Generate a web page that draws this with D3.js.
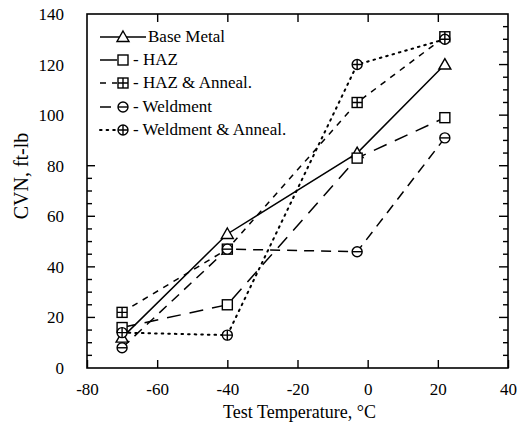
<!DOCTYPE html>
<html>
<head>
<meta charset="utf-8">
<script src="https://cdn.jsdelivr.net/npm/d3@7"></script>
<style>
  body { margin: 0; background: #fff; }
  text { font-family: "Liberation Serif", "DejaVu Serif", serif; fill: #000; }
</style>
</head>
<body>
<div id="chart"></div>
<script>
// test temperatures (C) and CVN values (ft-lb)
var temps = [-70, -40, -3, 22];
var baseMetal = [12, 53, 85, 120];
var haz = [16, 25, 83, 99];
var hazAnneal = [22, 47, 105, 131];
var weldment = [8, 47, 46, 91];
var weldmentAnneal = [14, 13, 120, 130];

var seriesNames = ["Base Metal", "HAZ", "HAZ & Anneal.", "Weldment", "Weldment & Anneal."];
var legendLabels = ["Base Metal", "- HAZ", "- HAZ & Anneal.", "- Weldment", "- Weldment & Anneal."];
var xTicks = [-80, -60, -40, -20, 0, 20, 40];
var yTicks = [0, 20, 40, 60, 80, 100, 120, 140];

var margin = {top: 14, right: 18, bottom: 61, left: 87},
    width = 526 - margin.left - margin.right,
    height = 429 - margin.top - margin.bottom;

var x = d3.scaleLinear().domain([-80, 40]).range([0, width]);
var y = d3.scaleLinear().domain([0, 140]).range([height, 0]);

var svg = d3.select("#chart").append("svg")
    .attr("width", 526)
    .attr("height", 429);

var plot = svg.append("g")
    .attr("transform", "translate(" + margin.left + "," + margin.top + ")");

var series = [
  {name: seriesNames[0], values: baseMetal, dash: null, marker: "triangle"},
  {name: seriesNames[1], values: haz, dash: "14,9", marker: "square"},
  {name: seriesNames[2], values: hazAnneal, dash: "6,6", marker: "squareplus"},
  {name: seriesNames[3], values: weldment, dash: "10,7", marker: "circleminus"},
  {name: seriesNames[4], values: weldmentAnneal, dash: "1.6,5", marker: "circleplus"}
];

// plain hyphen for negatives, like the original
var plainFormat = function(d) { return String(d); };

// minor ticks every 5 on left / right
var minorY = d3.range(0, 141, 5);

// bottom axis (labels + inward ticks)
var xAxis = plot.append("g")
    .attr("transform", "translate(0," + height + ")")
    .call(d3.axisBottom(x).tickValues(xTicks).tickSize(-8).tickPadding(15).tickFormat(plainFormat));
xAxis.select(".domain").remove();
xAxis.selectAll("text").style("font-size", "17px").style("font-family", "Liberation Serif");
xAxis.selectAll("line").attr("stroke-width", 1.4);

// top ticks
var xTop = plot.append("g")
    .call(d3.axisTop(x).tickValues(xTicks.slice(1, -1)).tickSize(-8).tickFormat(""));
xTop.select(".domain").remove();
xTop.selectAll("line").attr("stroke-width", 1.4);

// left axis: labels, ticks only below legend
var yAxis = plot.append("g")
    .call(d3.axisLeft(y).tickValues(yTicks).tickSize(0).tickPadding(23).tickFormat(plainFormat));
yAxis.select(".domain").remove();
yAxis.selectAll("text").style("font-size", "17px").style("font-family", "Liberation Serif");

plot.append("g").selectAll("line")
    .data(minorY.filter(function(d) { return d > 0 && d <= 80; }))
    .enter().append("line")
    .attr("x1", 0)
    .attr("x2", function(d) { return d % 20 === 0 ? 8 : 5; })
    .attr("y1", function(d) { return y(d); })
    .attr("y2", function(d) { return y(d); })
    .attr("stroke", "#000").attr("stroke-width", 1.4);

// right ticks
plot.append("g").selectAll("line")
    .data(minorY.filter(function(d) { return d > 0 && d < 140; }))
    .enter().append("line")
    .attr("x1", width)
    .attr("x2", function(d) { return width - (d % 20 === 0 ? 9 : 5); })
    .attr("y1", function(d) { return y(d); })
    .attr("y2", function(d) { return y(d); })
    .attr("stroke", "#000").attr("stroke-width", 1.4);

// frame
plot.append("rect")
    .attr("width", width).attr("height", height)
    .attr("fill", "none").attr("stroke", "#000").attr("stroke-width", 1.6);

// axis titles
svg.append("text")
    .attr("x", margin.left + x(-20) + 2)
    .attr("y", 418)
    .attr("text-anchor", "middle")
    .style("font-size", "18px")
    .text("Test Temperature, °C");

svg.append("text")
    .attr("transform", "translate(28," + 176 + ") rotate(-90)")
    .attr("text-anchor", "middle")
    .style("font-size", "20px")
    .text("CVN, ft-lb");

// lines
var line = d3.line()
    .x(function(d, i) { return x(temps[i]); })
    .y(function(d) { return y(d); });

plot.selectAll(".series")
    .data(series)
    .enter().append("path")
    .attr("class", "series")
    .attr("d", function(s) { return line(s.values); })
    .attr("fill", "none")
    .attr("stroke", "#000")
    .attr("stroke-width", function(s) { return s.marker === "circleplus" ? 2 : 1.5; })
    .attr("stroke-linecap", function(s) { return s.marker === "circleplus" ? "round" : "butt"; })
    .attr("stroke-dasharray", function(s) { return s.dash; });

function drawMarker(g, type, cx, cy) {
  var r = 5;
  if (type === "triangle") {
    g.append("path")
      .attr("d", "M" + cx + "," + (cy - 6) + "L" + (cx + 6) + "," + (cy + 4.5) + "L" + (cx - 6) + "," + (cy + 4.5) + "Z")
      .attr("fill", "white").attr("stroke", "#000").attr("stroke-width", 1.4);
  } else if (type === "square" || type === "squareplus") {
    g.append("rect")
      .attr("x", cx - 5).attr("y", cy - 5).attr("width", 10).attr("height", 10)
      .attr("fill", "white").attr("stroke", "#000").attr("stroke-width", 1.4);
    if (type === "squareplus") {
      g.append("path")
        .attr("d", "M" + (cx - 5) + "," + cy + "H" + (cx + 5) + "M" + cx + "," + (cy - 5) + "V" + (cy + 5))
        .attr("stroke", "#000").attr("stroke-width", 1.4);
    }
  } else {
    g.append("circle")
      .attr("cx", cx).attr("cy", cy).attr("r", r)
      .attr("fill", "white").attr("stroke", "#000").attr("stroke-width", 1.4);
    var p = "M" + (cx - r) + "," + cy + "H" + (cx + r);
    if (type === "circleplus") p += "M" + cx + "," + (cy - r) + "V" + (cy + r);
    g.append("path").attr("d", p).attr("stroke", "#000").attr("stroke-width", 1.4);
  }
}

// markers
var markers = plot.append("g");
series.forEach(function(s) {
  s.values.forEach(function(v, i) {
    drawMarker(markers, s.marker, x(temps[i]), y(v));
  });
});

// legend
var legend = svg.append("g");
var rowY = [42, 65, 88, 112, 135];
series.forEach(function(s, i) {
  var ly = rowY[i] - 5;
  var lineEnd = i === 0 ? 146 : (i === 3 ? 111 : 117);
  legend.append("line")
    .attr("x1", 100).attr("x2", lineEnd)
    .attr("y1", ly).attr("y2", ly)
    .attr("stroke", "#000")
    .attr("stroke-width", s.marker === "circleplus" ? 2 : 1.5)
    .attr("stroke-linecap", s.marker === "circleplus" ? "round" : "butt")
    .attr("stroke-dasharray", i <= 1 ? null : (i === 3 ? null : s.dash));
  drawMarker(legend, s.marker, 123, ly);
  legend.append("text")
    .attr("x", i === 0 ? 148 : 133)
    .attr("y", rowY[i])
    .style("font-size", "17px")
    .text(legendLabels[i]);
});
</script>
</body>
</html>
